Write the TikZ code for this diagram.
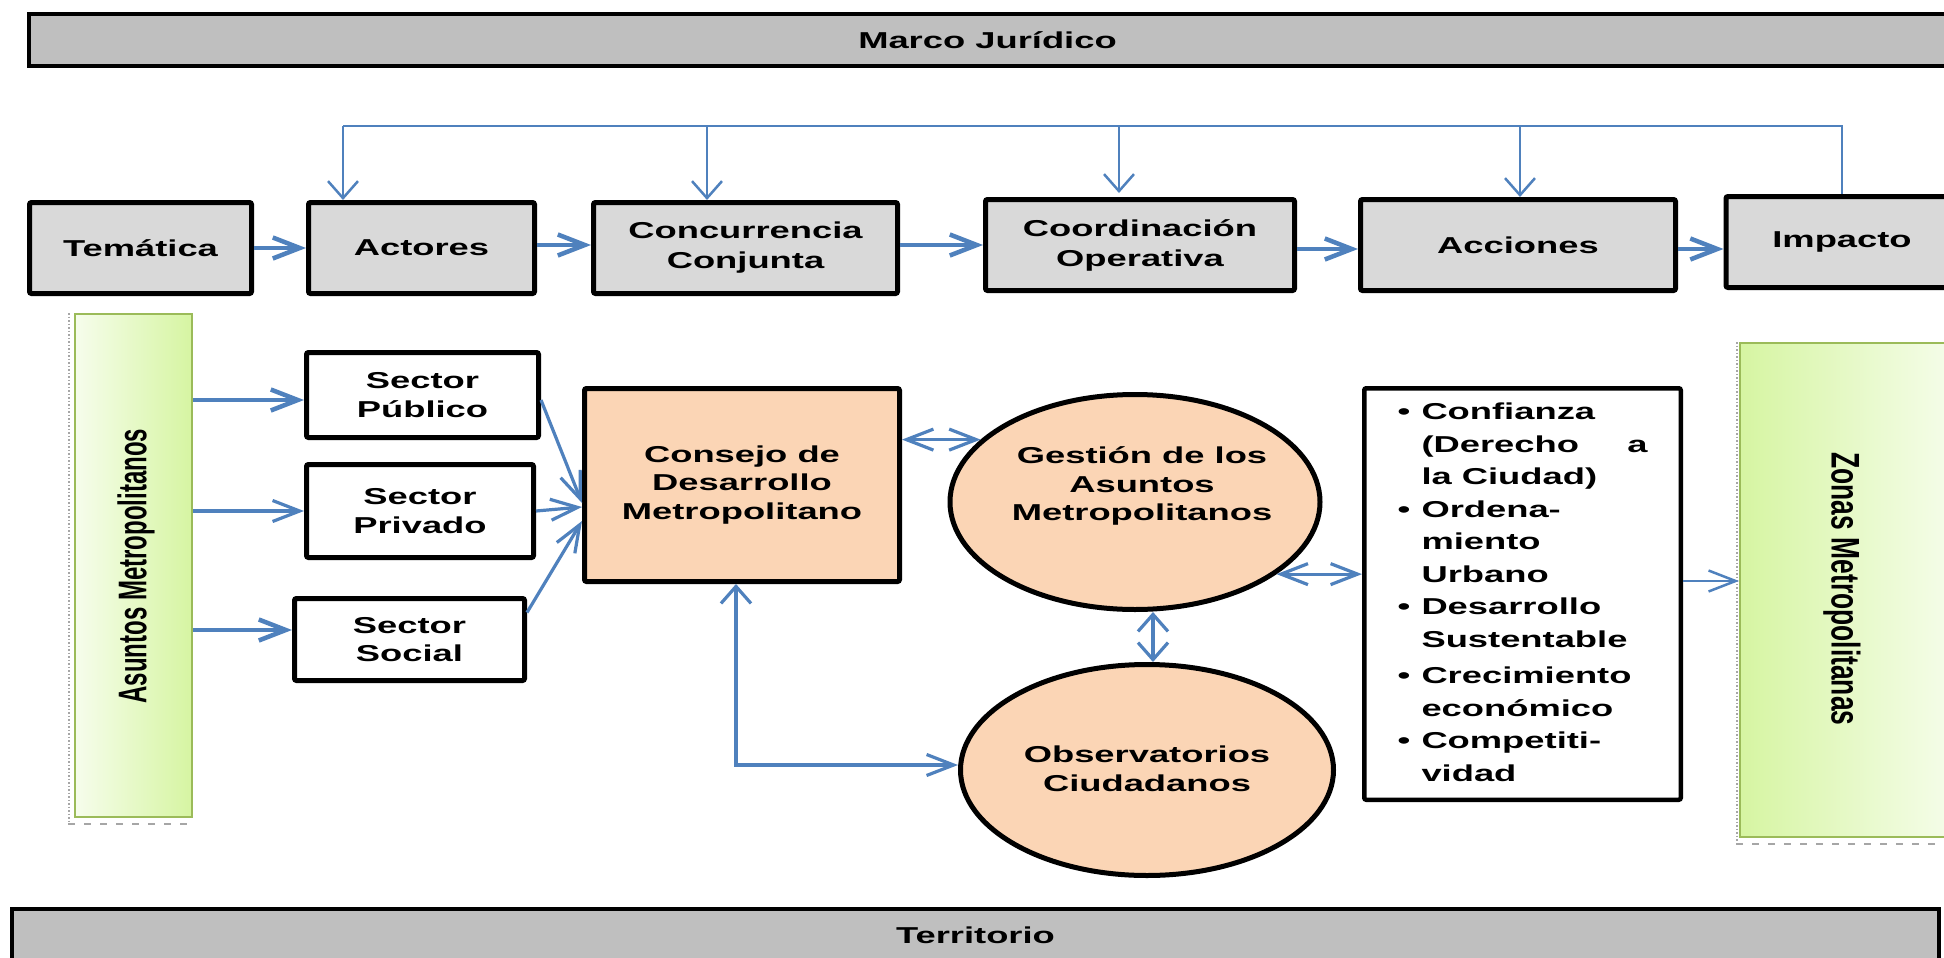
\documentclass[tikz,border=0pt]{standalone}
\usepackage{fontspec}
\setmainfont{Liberation Sans}[FakeStretch=1.58]
\newfontfamily\vfontA{Liberation Sans}[FakeStretch=0.6]
\newfontfamily\vfontB{Liberation Sans}[FakeStretch=0.66]
\usepackage{array}
\usetikzlibrary{arrows.meta,shapes.geometric}
\definecolor{lnblue}{HTML}{4F81BD}
\definecolor{barfill}{HTML}{BFBFBF}
\definecolor{boxfill}{HTML}{D9D9D9}
\definecolor{peach}{HTML}{FBD5B5}
\definecolor{greenA}{HTML}{D6F5A2}
\definecolor{greenL}{HTML}{F6FDEC}
\definecolor{greenB}{HTML}{9BBB59}
\tikzset{
 HB/.tip={Straight Barb[length=27pt,width=21pt]},
 VB/.tip={Straight Barb[length=17pt,width=30pt]},
}
\begin{document}
\begin{tikzpicture}[x=1pt,y=-1pt,
 basefont/.style={font=\fontsize{23}{28.5}\selectfont\bfseries},
 barbox/.style={rectangle, draw=black, line width=4pt, fill=barfill, inner sep=0pt, basefont},
 topbox/.style={rectangle, draw=black, line width=5pt, fill=boxfill, rounded corners=2pt, inner sep=0pt, align=center, font=\fontsize{23}{30}\selectfont\bfseries, minimum height=91pt},
 sectorbox/.style={rectangle, draw=black, line width=5pt, fill=white, rounded corners=2pt, inner sep=0pt, align=center, basefont},
 peachbox/.style={rectangle, draw=black, line width=5pt, fill=peach, rounded corners=2pt, inner sep=0pt, align=center, basefont},
 peachoval/.style={ellipse, draw=black, line width=5pt, fill=peach, inner sep=0pt},
 listbox/.style={rectangle, draw=black, line width=4.5pt, fill=white, rounded corners=2pt, inner sep=0pt, font=\fontsize{23}{32.5}\selectfont\bfseries},
 greenbar/.style={rectangle, draw=greenB, line width=2pt, inner sep=0pt},
 lbl/.style={inner sep=0pt, align=center, basefont},
 flow/.style={draw=lnblue, line width=4.5pt},
 link/.style={draw=lnblue, line width=3.2pt},
 bus/.style={draw=lnblue, line width=2.5pt},
 artifact/.style={draw=gray!70, line width=1.5pt},
]
\clip (0,0) rectangle (1944,958);
\fill[white] (0,0) rectangle (1944,958);

% bars
\node[barbox, minimum width=1917pt, minimum height=52pt] (marco) at (987.5,40) {Marco Jurídico};
\node[barbox, minimum width=1927pt, minimum height=53pt] (territorio) at (975.5,935.5) {Territorio};

% top row
\node[topbox, minimum width=222pt] (tematica) at (140.5,248) {Temática};
\node[topbox, minimum width=226pt] (actores) at (421.5,248) {Actores};
\node[topbox, minimum width=304pt] (concurrencia) at (745.5,248) {Concurrencia\\Conjunta};
\node[topbox, minimum width=309pt] (coordinacion) at (1140,245) {Coordinación\\Operativa};
\node[topbox, minimum width=315pt] (acciones) at (1518,245) {Acciones};
\node[topbox, minimum width=232pt] (impacto) at (1842,242) {Impacto};

% green bars
\draw[artifact, dotted] (69,313) -- (69,822);
\draw[artifact, line width=2pt, dash pattern=on 7pt off 9pt] (68,824) -- (194,824);
\node[greenbar, left color=greenL, right color=greenA, minimum width=117pt, minimum height=503pt] (asuntos) at (133.5,565.5) {};
\node[rotate=90, inner sep=0pt, font=\vfontA\fontsize{40}{40}\selectfont\bfseries] (asuntostxt) at (136,566) {Asuntos Metropolitanos};

\draw[artifact, dotted] (1737,342) -- (1737,842);
\draw[artifact, line width=2pt, dash pattern=on 7pt off 9pt] (1736,844) -- (1944,844);
\node[greenbar, left color=greenA, right color=greenL, minimum width=219pt, minimum height=494pt] (zonas) at (1849.5,590) {};
\node[rotate=-90, inner sep=0pt, font=\vfontB\fontsize{40}{40}\selectfont\bfseries] (zonastxt) at (1842,589) {Zonas Metropolitanas};

% sector boxes
\node[sectorbox, minimum width=232pt, minimum height=85pt] (sp) at (422.5,395) {Sector\\Público};
\node[sectorbox, minimum width=227pt, minimum height=93pt] (spr) at (420,511) {Sector\\Privado};
\node[sectorbox, minimum width=230pt, minimum height=82pt] (ss) at (409.5,639.5) {Sector\\Social};

% consejo
\node[peachbox, minimum width=315pt, minimum height=193pt] (consejo) at (742,485) {Consejo de\\Desarrollo\\Metropolitano};

% ovals
\node[peachoval, minimum width=370pt, minimum height=215pt] (gestion) at (1135,502) {};
\node[lbl] (gestiontxt) at (1142,486) {Gestión de los\\Asuntos\\Metropolitanos};
\node[peachoval, minimum width=373pt, minimum height=211pt] (obs) at (1147,770) {};
\node[lbl] (obstxt) at (1147,769) {Observatorios\\Ciudadanos};

% list box
\node[listbox, minimum width=316.5pt, minimum height=411.5pt] (list) at (1522.5,594) {%
\begin{tabular}{@{}p{24pt}@{}p{226pt}@{}}
\textbullet & Confianza\\
 & \makebox[226pt][s]{(Derecho\hfill a}\\
 & la Ciudad)\\
\textbullet & Ordena-\\
 & miento\\
 & Urbano\\
\textbullet & Desarrollo\\
 & Sustentable\\[4pt]
\textbullet & Crecimiento\\
 & económico\\
\textbullet & Competiti-\\
 & vidad
\end{tabular}};

% bus from Impacto
\coordinate (b1) at (343,126);
\coordinate (b2) at (707,126);
\coordinate (b3) at (1119,126);
\coordinate (b4) at (1520,126);
\draw[bus] (impacto.north) -- (impacto.north |- b1) -- (b1);
\draw[bus,-{VB}] (b1) -- (b1 |- actores.north);
\draw[bus,-{VB}] (b2) -- (b2 |- concurrencia.north);
\draw[bus,-{VB}] (b3) -- ([yshift=4pt]b3 |- coordinacion.north);
\draw[bus,-{VB}] (b4) -- (b4 |- acciones.north);

% top row flow
\draw[flow,-{HB}] (tematica.east) -- (actores.west);
\draw[flow,-{HB}] ([yshift=3pt]actores.east) -- ([yshift=3pt]actores.east -| concurrencia.west);
\draw[flow,-{HB}] (concurrencia.east |- coordinacion.west) -- (coordinacion.west);
\draw[flow,-{HB}] ([yshift=-4pt]coordinacion.east) -- ([yshift=-4pt]coordinacion.east -| acciones.west);
\draw[flow,-{HB}] ([yshift=-4pt]acciones.east) -- ([yshift=-4pt]acciones.east -| impacto.west);

% asuntos to sectors
\coordinate (t1) at ([yshift=-5pt]sp.west);
\coordinate (t3) at ([yshift=9.5pt]ss.west);
\draw[flow,-{HB}] (asuntos.east |- t1) -- (t1);
\draw[link,-{HB}] (asuntos.east |- spr.west) -- (spr.west);
\draw[flow,-{HB}] (asuntos.east |- t3) -- (t3);

% sectors to consejo
\draw[link,-{HB}] ([yshift=-5pt]sp.east) -- ([yshift=-18pt]consejo.west);
\draw[link,-{HB}] (spr.east) -- ([yshift=-22pt]consejo.west);
\draw[link,-{HB}] ([yshift=27pt]ss.east) -- ([yshift=-36pt]consejo.west);

% consejo / gestion / obs / list
\draw[link,{HB}-{HB}] (consejo.east |- gestion.158) -- (gestion.158);
\draw[link,{VB}-{VB}] ([xshift=18pt]gestion.south) -- ([xshift=6pt]obs.north);
\draw[link,{VB}-{HB}] ([xshift=-6pt]consejo.south) |- ([yshift=5pt]obs.west);
\draw[link,{HB}-{HB}] (gestion.-27) -- (gestion.-27 -| list.west);
\draw[bus,-{HB}] ([yshift=13pt]list.east) -- ([yshift=13pt]list.east -| zonas.west);
\end{tikzpicture}
\end{document}
